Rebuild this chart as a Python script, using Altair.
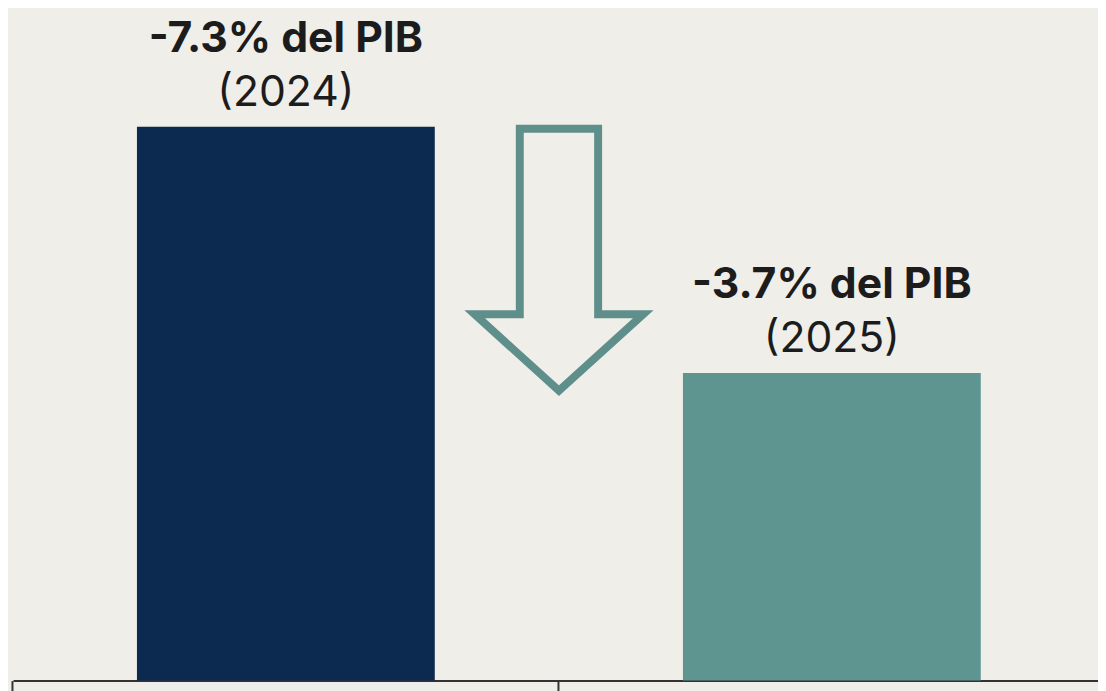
import altair as alt
import pandas as pd

# ---- data ----
years = ["2024", "2025"]
deficits = [-7.3, -3.7]          # % del PIB
bar_colors = ["#0c2a50", "#5f9591"]

# ---- layout / style constants ----
W, H = 1093, 675
Y_MIN, Y_MAX = -0.8, 9.0
BG = "#f0eee9"
TEXT = "#1c1c1c"
ARROW = "#5f8f8b"
FONT = "Inter"
FS = 43

df = pd.DataFrame({
    "year": years,
    "deficit": deficits,
    "color": bar_colors,
})
df["magnitude"] = df["deficit"].abs()
df["label"] = [f"{d}% del PIB" for d in deficits]
df["sub"] = [f"({y})" for y in years]

x_scale = alt.Scale(paddingInner=0.4545, paddingOuter=0.2209, align=0.514)
x_enc = alt.X(
    "year:N",
    sort=years,
    scale=x_scale,
    axis=alt.Axis(
        title=None, labels=False, domain=True, domainColor="#333333", domainWidth=2,
        ticks=True, bandPosition=-0.4167, tickSize=20, tickWidth=2, tickColor="#333333",
        grid=False,
    ),
)
y_scale = alt.Scale(domain=[Y_MIN, Y_MAX], zero=False, nice=False)

base = alt.Chart(df)

bars = base.mark_bar().encode(
    x=x_enc,
    y=alt.Y("magnitude:Q", scale=y_scale, axis=None),
    y2=alt.datum(Y_MIN),
    color=alt.Color("color:N", scale=None),
)

label = base.mark_text(
    font=FONT, fontSize=FS, fontWeight="bold", color=TEXT, baseline="alphabetic", dy=-75
).encode(x=alt.X("year:N", sort=years), y=alt.Y("magnitude:Q"), text="label:N")

sub = base.mark_text(
    font=FONT, fontSize=FS, fontWeight="normal", color=TEXT, baseline="alphabetic", dy=-21
).encode(x=alt.X("year:N", sort=years), y=alt.Y("magnitude:Q"), text="sub:N")

# decorative down arrow between the bars
arrow_path = ("M -0.288 -0.97 L 0.288 -0.97 L 0.288 0.394 L 0.62 0.394 "
              "L 0 0.956 L -0.62 0.394 L -0.288 0.394 Z")
arrow = alt.Chart(pd.DataFrame({"a": [1]})).mark_point(
    shape=arrow_path, filled=False, stroke=ARROW, strokeWidth=8,
    size=274 * 274, strokeJoin="miter", opacity=1,
).encode(x=alt.value(550), y=alt.value(252))

chart = alt.layer(bars, arrow, label, sub).properties(
    width=W, height=H,
    padding={"left": 5, "top": 0, "right": 0, "bottom": 10},
    autosize=alt.AutoSizeParams(type="none"),
    background=BG,
).configure_view(stroke=None, fill=BG)

chart.save("out.html", embed_options={"renderer": "svg", "actions": False})
